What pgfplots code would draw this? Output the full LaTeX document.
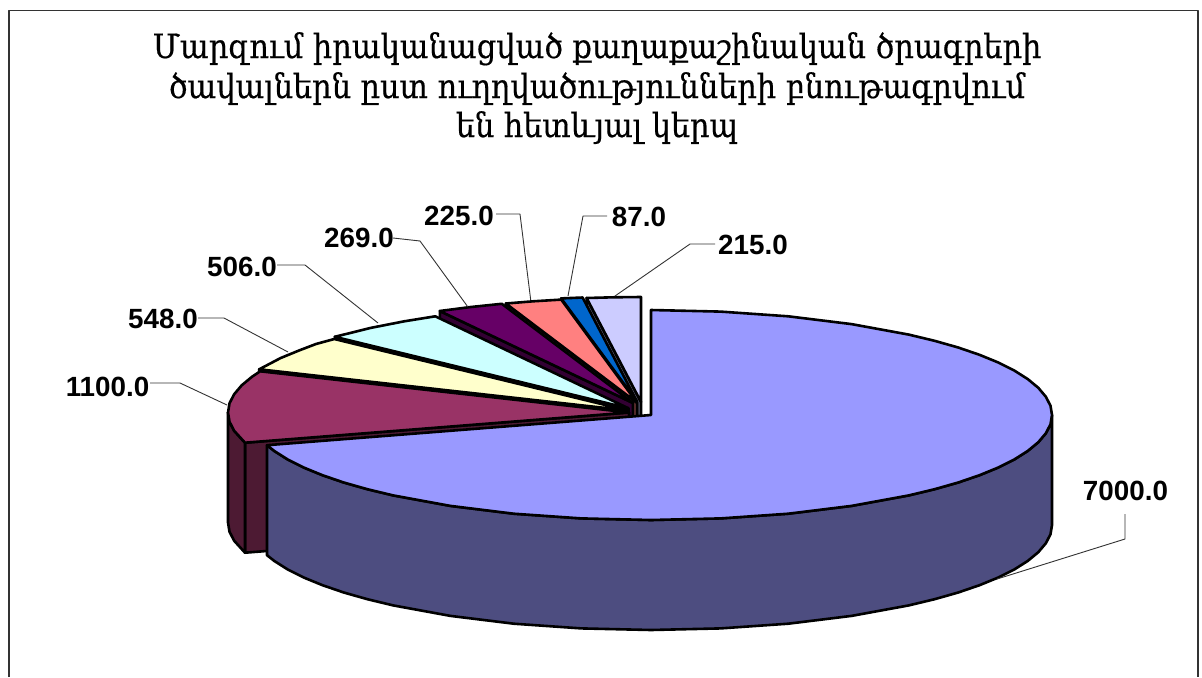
\documentclass[border=0pt]{standalone}
\usepackage{fontspec}
\setmainfont{Liberation Sans}
\newfontfamily\armfont[FakeBold=0.5]{DejaVu Serif}
\usepackage{pgfplots}
\pgfplotsset{compat=1.18}
\definecolor{cMain}{HTML}{9999FF}\definecolor{wMain}{HTML}{4D4D80}
\definecolor{cBur}{HTML}{993366}\definecolor{wBur}{HTML}{4D1A33}
\definecolor{cYel}{HTML}{FFFFCC}
\definecolor{cCya}{HTML}{CCFFFF}
\definecolor{cPur}{HTML}{660066}\definecolor{wPur}{HTML}{330033}
\definecolor{cPin}{HTML}{FF8080}\definecolor{wPin}{HTML}{804040}
\definecolor{cBlu}{HTML}{0066CC}\definecolor{wBlu}{HTML}{003366}
\definecolor{cLil}{HTML}{CCCCFF}\definecolor{wLil}{HTML}{666680}
\begin{document}
\begin{tikzpicture}
\begin{axis}[
  scale only axis, width=1202pt, height=677pt,
  xmin=0, xmax=1202, ymin=0, ymax=677, y dir=reverse,
  hide axis, clip=false,
  every axis plot/.append style={line join=round},
  slice/.style={draw=black, line width=2.6pt, fill=#1},
  leader/.style={draw=black!80, line width=0.9pt},
]
\path (axis cs:0,0) rectangle (axis cs:1202,677);
% frame
\addplot[draw=black!80, line width=1.5pt] coordinates {(9,677)(9,10.5)(1198,10.5)(1198,677)};
% lilac 215
\addplot[slice=wLil] coordinates {(586.6,298)(641,402)(641,512)(586.6,408)} --cycle;
\addplot[slice=cLil] coordinates {(641,402)(586.6,298)(613,297.3)(641,297)} --cycle;
% blue 87
\addplot[slice=wBlu] coordinates {(561.2,298.4)(637,401.5)(637,511.5)(561.2,408.4)} --cycle;
\addplot[slice=cBlu] coordinates {(637,401.5)(561.2,298.4)(582.6,297.5)} --cycle;
% pink 225
\addplot[slice=wPin] coordinates {(505.8,303.5)(637,402.7)(637,512.7)(505.8,413.5)} --cycle;
\addplot[slice=cPin] coordinates {(637,402.7)(505.8,303.5)(533.2,301.3)(561.2,299.6)} --cycle;
% purple 269
\addplot[slice=wPur] coordinates {(439.8,311)(633,403)(633,513)(439.8,421)} --cycle;
\addplot[slice=cPur] coordinates {(633,403)(439.8,311)(469.9,307.1)(501.8,303.8)} --cycle;
% cyan 506
\addplot[slice=black] coordinates {(334.8,336.8)(628.5,408.3)(628.5,518.3)(334.8,446.8)} --cycle;
\addplot[slice=cCya] coordinates {(628.5,408.3)(334.8,336.8)(370.7,327.9)(404.3,321.3)(435.3,316.3)} --cycle;
% yellow 548
\addplot[slice=black] coordinates {(259.2,369.3)(628,410.5)(628,520.5)(259.2,479.3)} --cycle;
\addplot[slice=cYel] coordinates {(628,410.5)(259.2,369.3)(280.7,358)(299.5,350.3)(316,344)(334.3,339)} --cycle;
% burgundy 1100
\addplot[slice=wBur] coordinates {(245,442.7)(629,412.5)(629,522.5)(245,552.7)} --cycle;
\addplot[slice=wBur] coordinates {(245,442.7)(234.1,430.7)(229.5,421.7)(228,412.5)(228,522.5)(229.5,531.7)(234.1,540.7)(245,552.7)} --cycle;
\addplot[slice=cBur] coordinates {(629,412.5)(245,442.7)(234.1,430.7)(229.5,421.7)(228,412.5)(229.5,403.3)(234.1,394.3)(241.7,385.3)(252.2,376.6)(260.2,371.3)} --cycle;
% main 7000
\addplot[slice=wMain] coordinates {(1052,415)(1050.5,424.2)(1045.9,433.2)(1038.3,442.2)(1027.8,450.9)(1014.4,459.4)(998.3,467.5)(979.5,475.2)(958.2,482.5)(934.6,489.2)(908.8,495.4)(851.5,505.9)(788.2,513.7)(720.6,518.4)(651,520)(581.4,518.4)(513.8,513.7)(450.5,505.9)(393.2,495.4)(367.4,489.2)(343.8,482.5)(322.5,475.2)(303.7,467.5)(287.6,459.4)(274.2,450.9)(267,445.2)
(267,555.2)(274.2,560.9)(287.6,569.4)(303.7,577.5)(322.5,585.2)(343.8,592.5)(367.4,599.2)(393.2,605.4)(450.5,615.9)(513.8,623.7)(581.4,628.4)(651,630)(720.6,628.4)(788.2,623.7)(851.5,615.9)(908.8,605.4)(934.6,599.2)(958.2,592.5)(979.5,585.2)(998.3,577.5)(1014.4,569.4)(1027.8,560.9)(1038.3,552.2)(1045.9,543.2)(1050.5,534.2)(1052,525)} --cycle;
\addplot[slice=cMain] coordinates {(651,415)(651,310)(720.6,311.6)(788.2,316.3)(851.5,324.1)(908.8,334.6)(934.6,340.8)(958.2,347.5)(979.5,354.8)(998.3,362.5)(1014.4,370.6)(1027.8,379.1)(1038.3,387.8)(1045.9,396.8)(1050.5,405.8)(1052,415)(1050.5,424.2)(1045.9,433.2)(1038.3,442.2)(1027.8,450.9)(1014.4,459.4)(998.3,467.5)(979.5,475.2)(958.2,482.5)(934.6,489.2)(908.8,495.4)(851.5,505.9)(788.2,513.7)(720.6,518.4)(651,520)(581.4,518.4)(513.8,513.7)(450.5,505.9)(393.2,495.4)(367.4,489.2)(343.8,482.5)(322.5,475.2)(303.7,467.5)(287.6,459.4)(274.2,450.9)(267,445.2)} --cycle;
% leaders
\addplot[leader] coordinates {(150,383)(180,383)(227,405)};
\addplot[leader] coordinates {(198,318)(224,318)(288,352)};
\addplot[leader] coordinates {(277,265)(305,265)(378,323)};
\addplot[leader] coordinates {(393,238)(420,241)(467.7,306.7)};
\addplot[leader] coordinates {(496,214)(520,214)(530.7,300)};
\addplot[leader] coordinates {(607,216)(583,216)(568,296)};
\addplot[leader] coordinates {(715,244)(690,244)(615,296)};
\addplot[leader] coordinates {(1125,514)(1125,539)(997,579)};
% value labels
\tikzset{vl/.style={font=\fontsize{27.8}{30}\selectfont\bfseries, inner sep=0pt, anchor=center}}
\node[vl] at (axis cs:107.5,387) {1100.0};
\node[vl] at (axis cs:163,319) {548.0};
\node[vl] at (axis cs:242,267) {506.0};
\node[vl] at (axis cs:359,238) {269.0};
\node[vl] at (axis cs:459,216) {225.0};
\node[vl] at (axis cs:639,217) {87.0};
\node[vl] at (axis cs:753,245) {215.0};
\node[vl] at (axis cs:1125.5,491) {7000.0};
% title
\tikzset{tl/.style={font=\armfont\fontsize{30.4}{34}\selectfont, inner sep=0pt, anchor=base, yscale=1.1}}
\node[tl] at (axis cs:597,58) {Մարզում իրականացված քաղաքաշինական ծրագրերի};
\node[tl] at (axis cs:597,98) {ծավալներն ըստ ուղղվածությունների բնութագրվում};
\node[tl] at (axis cs:597,137) {են հետևյալ կերպ};
\end{axis}
\end{tikzpicture}
\end{document}
